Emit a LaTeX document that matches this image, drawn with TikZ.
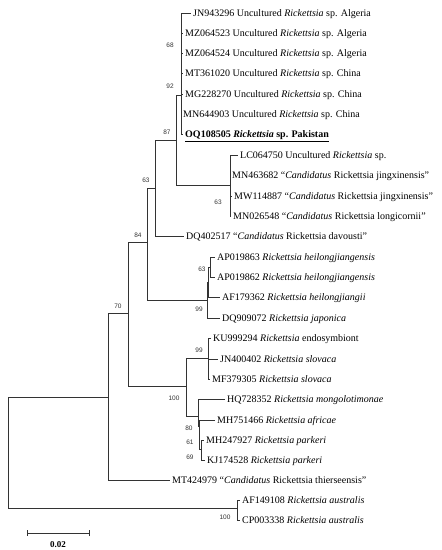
\documentclass[tikz,border=0pt]{standalone}
\usepackage{fontspec}
\setmainfont{Liberation Serif}
\newfontfamily\numfont{Liberation Sans}
\begin{document}
\begin{tikzpicture}[x=1pt,y=-1pt,
  br/.style={draw=black!80,line width=0.8pt},
  tip/.style={anchor=west,inner xsep=2pt,inner ysep=0pt,text height=6.5pt,text depth=0pt,font=\fontsize{10}{12}\selectfont},
  bs/.style={inner sep=0pt,font=\numfont\fontsize{6.5}{7}\selectfont,text=black!80}]
\useasboundingbox (0,0) rectangle (442,550);
% internal nodes
\coordinate (R) at (8,453);
\coordinate (nA) at (108,397);
\coordinate (nAus) at (237,508);
\coordinate (n70) at (128,313);
\coordinate (n84) at (147,242);
\coordinate (nSFG) at (186,386);
\coordinate (n63a) at (155,188);
\coordinate (nH) at (207,300);
\coordinate (n87) at (176,140);
\coordinate (n92) at (181,95);
\coordinate (nLC) at (230,185);
\coordinate (nX) at (208.5,282);
\coordinate (n63b) at (210,267);
\coordinate (n99b) at (208,358);
\coordinate (nB) at (198,416);
\coordinate (n80) at (199.5,426);
\coordinate (n61) at (201,449);
% tips
\node[tip] (t1) at (191,13) {JN943296 Uncultured \textit{Rickettsia} sp. Algeria};
\node[tip] (t2) at (183,33) {MZ064523 Uncultured \textit{Rickettsia} sp. Algeria};
\node[tip] (t3) at (183,53) {MZ064524 Uncultured \textit{Rickettsia} sp. Algeria};
\node[tip] (t4) at (183,73) {MT361020 Uncultured \textit{Rickettsia} sp. China};
\node[tip] (t5) at (183,94) {MG228270 Uncultured \textit{Rickettsia} sp. China};
\node[tip] (t6) at (181,114) {MN644903 Uncultured \textit{Rickettsia} sp. China};
\node[tip] (t7) at (183,134) {\underline{\textbf{OQ108505 \textit{Rickettsia} sp. Pakistan}}};
\node[tip] (t8) at (238,155) {LC064750 Uncultured \textit{Rickettsia} sp.};
\node[tip] (t9) at (230,175) {MN463682 “\textit{Candidatus} Rickettsia jingxinensis”};
\node[tip] (t10) at (232,196) {MW114887 “\textit{Candidatus} Rickettsia jingxinensis”};
\node[tip] (t11) at (231,216) {MN026548 “\textit{Candidatus} Rickettsia longicornii”};
\node[tip] (t12) at (184,236) {DQ402517 “\textit{Candidatus} Rickettsia davousti”};
\node[tip] (t13) at (215,257) {AP019863 \textit{Rickettsia heilongjiangensis}};
\node[tip] (t14) at (215,277) {AP019862 \textit{Rickettsia heilongjiangensis}};
\node[tip] (t15) at (220,297) {AF179362 \textit{Rickettsia heilongjiangii}};
\node[tip] (t16) at (220,318) {DQ909072 \textit{Rickettsia japonica}};
\node[tip] (t17) at (211,338) {KU999294 \textit{Rickettsia} endosymbiont};
\node[tip] (t18) at (218,359) {JN400402 \textit{Rickettsia slovaca}};
\node[tip] (t19) at (210,379) {MF379305 \textit{Rickettsia slovaca}};
\node[tip] (t20) at (225,399) {HQ728352 \textit{Rickettsia mongolotimonae}};
\node[tip] (t21) at (215,420) {MH751466 \textit{Rickettsia africae}};
\node[tip] (t22) at (204,440) {MH247927 \textit{Rickettsia parkeri}};
\node[tip] (t23) at (205,460) {KJ174528 \textit{Rickettsia parkeri}};
\node[tip] (t24) at (170,480) {MT424979 “\textit{Candidatus} Rickettsia thierseensis”};
\node[tip] (t25) at (240,500) {AF149108 \textit{Rickettsia australis}};
\node[tip] (t26) at (240,520) {CP003338 \textit{Rickettsia australis}};
% branches
\draw[br] (R) |- (nA);
\draw[br] (R) |- (nAus);
\draw[br] (nAus) |- (t25.west);
\draw[br] (nAus) |- (t26.west);
\draw[br] (nA) |- (n70);
\draw[br] (nA) |- (t24.west);
\draw[br] (n70) |- (n84);
\draw[br] (n70) |- (nSFG);
\draw[br] (n84) |- (n63a);
\draw[br] (n84) |- (nH);
\draw[br] (n63a) |- (n87);
\draw[br] (n63a) |- (t12.west);
\draw[br] (n87) |- (n92);
\draw[br] (n87) |- (nLC);
\foreach \i in {1,...,7} {\draw[br] (n92) |- (t\i.west);}
\foreach \i in {8,...,11} {\draw[br] (nLC) |- (t\i.west);}
\draw[br] (nH) |- (nX);
\draw[br] (nH) |- (t16.west);
\draw[br] (nX) |- (n63b);
\draw[br] (nX) |- (t15.west);
\draw[br] (n63b) |- (t13.west);
\draw[br] (n63b) |- (t14.west);
\draw[br] (nSFG) |- (n99b);
\draw[br] (nSFG) |- (nB);
\foreach \i in {17,18,19} {\draw[br] (n99b) |- (t\i.west);}
\draw[br] (nB) |- (t20.west);
\draw[br] (nB) |- (n80);
\draw[br] (n80) |- (t21.west);
\draw[br] (n80) |- (n61);
\draw[br] (n61) |- (t22.west);
\draw[br] (n61) |- (t23.west);
% bootstrap labels
\node[bs] (b68) at (170,45) {68};
\node[bs] (b92) at (170,86) {92};
\node[bs] (b87) at (167,132) {87};
\node[bs] (b63c) at (218,202) {63};
\node[bs] (b63a) at (146,180) {63};
\node[bs] (b84) at (138,235) {84};
\node[bs] (b70) at (118,306) {70};
\node[bs] (b63b) at (202,269) {63};
\node[bs] (b99a) at (199,309) {99};
\node[bs] (b99b) at (199,350) {99};
\node[bs] (b100a) at (174,398) {100};
\node[bs] (b80) at (189,428) {80};
\node[bs] (b61) at (190,442) {61};
\node[bs] (b69) at (190,457) {69};
\node[bs] (b100b) at (225,517) {100};
% scale bar
\coordinate (s1) at (27,533);
\coordinate (s2) at (89,533);
\draw[br] (s1) -- (s2);
\draw[br] ([yshift=-3]s1) -- ([yshift=3]s1);
\draw[br] ([yshift=-3]s2) -- ([yshift=3]s2);
\node[font=\fontsize{9}{10}\selectfont\bfseries,inner sep=0pt] (sl) at (58,545) {0.02};
\end{tikzpicture}
\end{document}
